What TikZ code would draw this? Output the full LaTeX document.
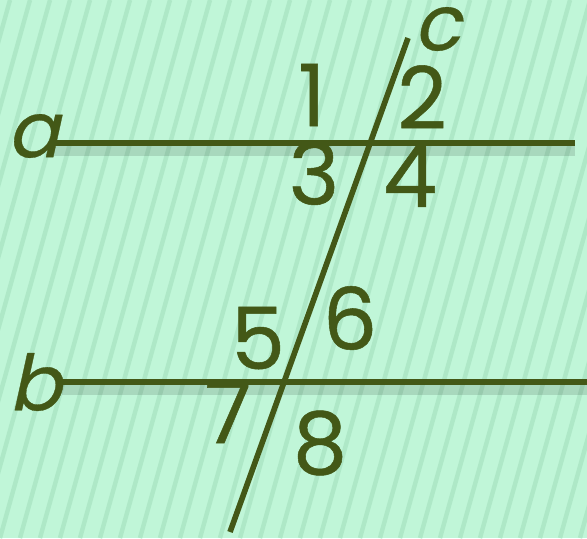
\documentclass[tikz,border=0pt]{standalone}
\usepackage{fontspec}
\setmainfont{Poppins}
\newfontfamily\slfont[FakeSlant=0.22, FakeBold=0.4]{Poppins}
\newfontfamily\numfont[FakeBold=0.6]{Poppins}
\usepackage{xcolor}
\definecolor{paper}{HTML}{C0F6D8}
\definecolor{stripe}{HTML}{AEE8C7}
\definecolor{ink}{HTML}{435817}

\begin{document}
\begin{tikzpicture}[
    x=0.02cm, y=-0.02cm,
    strokeline/.style={draw=ink, line width=3.2pt},
    shadeline/.style={draw=black, line width=6pt, opacity=0.12},
    num/.style={inner sep=0pt, text=ink, font=\fontsize{49}{59}\numfont},
    linename/.style={inner sep=0pt, text=ink, font=\fontsize{44}{53}\slfont},
]
\useasboundingbox (0,0) rectangle (587,538);

% Background with slanted stripes
\fill[paper] (0,0) rectangle (587,538);
\begin{scope}
  \clip (0,0) rectangle (587,538);
  \foreach \x in {-200,-180,...,600}
    \draw[stripe, line width=2.5pt] (\x,538) -- (\x+150,0);
\end{scope}

% End points
\coordinate (a0) at (50,143);
\coordinate (a1) at (575,143);
\coordinate (b0) at (62,382);
\coordinate (b1) at (587,382);
\coordinate (c0) at (408,38);
\coordinate (c1) at (230,532);

% Shadows below the parallels
\draw[shadeline] ([yshift=-0.16cm]a0) -- ([yshift=-0.16cm]a1);
\draw[shadeline] ([yshift=-0.16cm]b0) -- ([yshift=-0.16cm]b1);

% Lines
\draw[strokeline] (a0) -- (a1);
\draw[strokeline] (b0) -- (b1);
\draw[strokeline] (c0) -- (c1);

% Line names
\node[linename] (la) at (33,136) {a};
\node[linename] (lb) at (35,382) {b};
\node[linename] (lc) at (437,29) {c};

% Angles at a
\node[num] (n1) at (312,95) {1};
\node[num] (n2) at (422,97) {2};
\node[num] (n3) at (314,173) {3};
\node[num] (n4) at (410,176) {4};

% Angles at b
\node[num] (n5) at (258,338) {5};
\node[num] (n6) at (350,318) {6};
\node[num] (n7) at (228,412) {7};
\node[num] (n8) at (320,443) {8};

\end{tikzpicture}
\end{document}
